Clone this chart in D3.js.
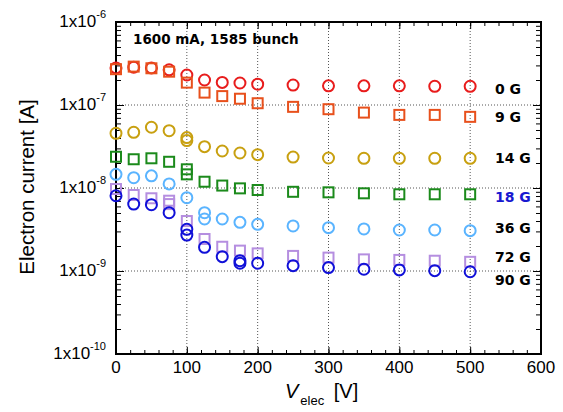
<!DOCTYPE html>
<html>
<head>
<meta charset="utf-8">
<script src="https://cdn.jsdelivr.net/npm/d3@7"></script>
<style>
  body { margin: 0; background: #fff; }
  svg { display: block; }
</style>
</head>
<body>
<svg id="chart" width="563" height="412"></svg>
<script>
// measured data (electron current vs. electrode voltage)
const voltages = [0, 25, 50, 75, 100, 125, 150, 175, 200, 250, 300, 350, 400, 450, 500];
const fieldLabels = ["0 G", "9 G", "14 G", "18 G", "36 G", "72 G", "90 G"];
const current0G  = [2.8e-7, 2.85e-7, 2.8e-7, 2.65e-7, 2.3e-7, 2.0e-7, 1.87e-7, 1.84e-7, 1.78e-7, 1.74e-7, 1.7e-7, 1.7e-7, 1.7e-7, 1.68e-7, 1.68e-7];
const current9G  = [2.7e-7, 2.9e-7, 2.77e-7, 2.52e-7, 1.86e-7, 1.41e-7, 1.28e-7, 1.19e-7, 1.05e-7, 9.5e-8, 8.9e-8, 8.1e-8, 7.6e-8, 7.6e-8, 7.2e-8];
const current14G = [4.56e-8, 4.69e-8, 5.39e-8, 4.9e-8, 4.05e-8, 3.15e-8, 2.79e-8, 2.64e-8, 2.52e-8, 2.36e-8, 2.3e-8, 2.28e-8, 2.28e-8, 2.28e-8, 2.28e-8];
const current18G = [2.38e-8, 2.22e-8, 2.28e-8, 2.07e-8, 1.68e-8, 1.19e-8, 1.07e-8, 9.9e-9, 9.46e-9, 9.0e-9, 8.87e-9, 8.63e-9, 8.4e-9, 8.4e-9, 8.4e-9];
const current36G = [1.46e-8, 1.33e-8, 1.4e-8, 1.12e-8, 7.64e-9, 5.04e-9, 4.23e-9, 3.86e-9, 3.65e-9, 3.49e-9, 3.33e-9, 3.21e-9, 3.12e-9, 3.12e-9, 3.06e-9];
const current72G = [9.72e-9, 8.24e-9, 7.52e-9, 7.03e-9, 4.0e-9, 2.43e-9, 1.96e-9, 1.76e-9, 1.63e-9, 1.52e-9, 1.45e-9, 1.38e-9, 1.36e-9, 1.33e-9, 1.29e-9];
const current90G = [8.07e-9, 6.41e-9, 6.29e-9, 5.04e-9, 3.18e-9, 1.93e-9, 1.49e-9, 1.33e-9, 1.24e-9, 1.16e-9, 1.1e-9, 1.05e-9, 1.03e-9, 1.01e-9, 9.8e-10];
// repeated measurements at the same voltage
const repeatField   = ["14 G", "18 G", "36 G", "72 G", "90 G", "90 G"];
const repeatVoltage = [100, 100, 125, 75, 100, 175];
const repeatCurrent = [3.73e-8, 1.46e-8, 4.23e-9, 6.4e-9, 2.71e-9, 1.24e-9];
const xTicks = [0, 100, 200, 300, 400, 500, 600];
const yExponents = [-6, -7, -8, -9, -10];

const seriesValues = [current0G, current9G, current14G, current18G, current36G, current72G, current90G];
const seriesColors = ["#e81c1c", "#e8501c", "#c8a010", "#1b8a1b", "#5ab4ff", "#b58ee0", "#1010d8"];
const seriesShapes = ["circle", "square", "circle", "square", "circle", "square", "circle"];
const labelOffsets = [3, 0, 0, 3, -3, -5, 8];

const svg = d3.select("#chart");
const margin = {left: 116, right: 22, top: 22, bottom: 58};
const W = 563, H = 412;

const x = d3.scaleLinear().domain([0, 600]).range([margin.left, W - margin.right]);
const y = d3.scaleLog().domain([1e-10, 1e-6]).range([H - margin.bottom, margin.top]);

// grid
const grid = svg.append("g");
grid.selectAll("line.vgrid")
    .data(xTicks.filter(d => d > 0 && d < 600))
    .join("line")
    .attr("x1", d => x(d)).attr("x2", d => x(d))
    .attr("y1", y(1e-6)).attr("y2", y(1e-10))
    .style("stroke", "#555").style("stroke-dasharray", "1,2");
grid.selectAll("line.hgrid")
    .data([1e-7, 1e-8, 1e-9])
    .join("line")
    .attr("x1", x(0)).attr("x2", x(600))
    .attr("y1", d => y(d)).attr("y2", d => y(d))
    .style("stroke", "#555").style("stroke-dasharray", "1,2");

// ticks (inside the frame, on all four sides)
const xMinor = d3.range(0, 601, 20);
const yMinor = [];
for (let e = -10; e < -6; e++) for (let m = 2; m <= 9; m++) yMinor.push(m * Math.pow(10, e));
const yMajor = yExponents.map(e => Math.pow(10, e));

function tickAxis(axis, transform) {
    svg.append("g").attr("transform", transform).call(axis)
        .call(g => g.select(".domain").remove())
        .call(g => g.selectAll("line").style("stroke", "#000"));
}
tickAxis(d3.axisBottom(x).tickValues(xMinor).tickSize(-4).tickFormat(""), `translate(0,${y(1e-10)})`);
tickAxis(d3.axisBottom(x).tickValues(xTicks).tickSize(-7).tickFormat(""), `translate(0,${y(1e-10)})`);
tickAxis(d3.axisTop(x).tickValues(xMinor).tickSize(-4).tickFormat(""), `translate(0,${y(1e-6)})`);
tickAxis(d3.axisTop(x).tickValues(xTicks).tickSize(-7).tickFormat(""), `translate(0,${y(1e-6)})`);
tickAxis(d3.axisLeft(y).tickValues(yMinor).tickSize(-5).tickFormat(""), `translate(${x(0)},0)`);
tickAxis(d3.axisLeft(y).tickValues(yMajor).tickSize(-8).tickFormat(""), `translate(${x(0)},0)`);
tickAxis(d3.axisRight(y).tickValues(yMinor).tickSize(-5).tickFormat(""), `translate(${x(600)},0)`);
tickAxis(d3.axisRight(y).tickValues(yMajor).tickSize(-8).tickFormat(""), `translate(${x(600)},0)`);

// frame
svg.append("rect")
    .attr("x", x(0)).attr("y", y(1e-6))
    .attr("width", x(600) - x(0)).attr("height", y(1e-10) - y(1e-6))
    .style("fill", "none").style("stroke", "#000").style("stroke-width", 2);

// tick labels
svg.selectAll("text.xtick")
    .data(xTicks)
    .join("text")
    .attr("class", "xtick")
    .attr("x", d => x(d)).attr("y", 373)
    .attr("text-anchor", "middle")
    .style("font", "17px 'Liberation Sans', Arial, sans-serif")
    .text(d => d);

const ylab = svg.selectAll("text.ytick")
    .data(yExponents)
    .join("text")
    .attr("class", "ytick")
    .attr("x", 106).attr("y", d => y(Math.pow(10, d)) + 5)
    .attr("text-anchor", "end")
    .style("font", "17px 'Liberation Sans', Arial, sans-serif");
ylab.append("tspan").text("1x10");
ylab.append("tspan").attr("dy", -9).style("font-size", "11px").text(d => d);

// axis titles
svg.append("text")
    .attr("transform", `translate(34,187) rotate(-90)`)
    .attr("text-anchor", "middle")
    .style("font", "20.5px 'Liberation Sans', Arial, sans-serif")
    .text("Electron current [A]");

const xt = svg.append("text")
    .attr("x", 285).attr("y", 398)
    .style("font", "20px 'Liberation Sans', Arial, sans-serif");
xt.append("tspan").style("font-style", "italic").text("V");
xt.append("tspan").attr("dx", 2).attr("dy", 7).style("font-size", "13px").text("elec");
xt.append("tspan").attr("dx", 4).attr("dy", -7).text(" [V]");

// data points
const points = [];
seriesValues.forEach((vals, i) => {
    vals.forEach((v, j) => points.push({s: i, v: voltages[j], c: v}));
    repeatField.forEach((f, k) => {
        if (f === fieldLabels[i]) points.push({s: i, v: repeatVoltage[k], c: repeatCurrent[k]});
    });
});

const marks = svg.append("g");
const r = 5.5, side = 10;
marks.selectAll("circle")
    .data(points.filter(d => seriesShapes[d.s] === "circle"))
    .join("circle")
    .attr("cx", d => x(d.v)).attr("cy", d => y(d.c)).attr("r", r)
    .style("fill", "none").style("stroke", d => seriesColors[d.s]).style("stroke-width", 2);
marks.selectAll("rect")
    .data(points.filter(d => seriesShapes[d.s] === "square"))
    .join("rect")
    .attr("x", d => x(d.v) - side / 2).attr("y", d => y(d.c) - side / 2)
    .attr("width", side).attr("height", side)
    .style("fill", "none").style("stroke", d => seriesColors[d.s]).style("stroke-width", 2);
// keep series draw order: later series on top
marks.selectAll("circle, rect").sort((a, b) => a.s - b.s);

// series labels
svg.selectAll("text.series")
    .data(fieldLabels)
    .join("text")
    .attr("class", "series")
    .attr("x", 495)
    .attr("y", (d, i) => y(seriesValues[i][seriesValues[i].length - 1]) + labelOffsets[i] + 5)
    .style("font", "bold 14px 'DejaVu Sans', sans-serif")
    .style("fill", d => d === "18 G" ? "#1818d0" : "#000")
    .text(d => d);

// annotation
svg.append("text")
    .attr("x", 133).attr("y", 44)
    .style("font", "bold 13.5px 'DejaVu Sans', sans-serif")
    .text("1600 mA, 1585 bunch");
</script>
</body>
</html>
